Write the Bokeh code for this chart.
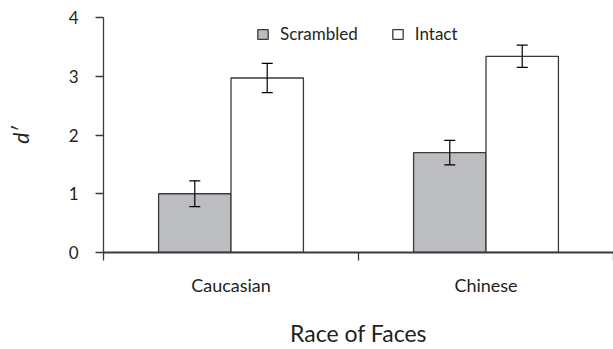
from bokeh.plotting import figure
from bokeh.models import (Range1d, FixedTicker, Whisker, TeeHead, ColumnDataSource,
                          Legend, LegendItem, LinearAxis)
from bokeh.embed import file_html
from bokeh.resources import INLINE

races = ["Caucasian", "Chinese"]
conditions = ["Scrambled", "Intact"]
scrambled = [1.00, 1.70]
intact = [2.97, 3.34]
scrambled_err = [0.22, 0.21]
intact_err = [0.25, 0.19]
y_ticks = [0, 1, 2, 3, 4]

FONT = "Lato"
GRAY = "#bcbdc0"
EDGE = "#3a3a3a"
TXT = "#231f20"
OFF = 0.142
BW = 0.284

p = figure(width=613, height=349, output_backend="svg", toolbar_location=None,
           x_range=Range1d(0, 2.0), y_range=Range1d(0, 4),
           min_border_left=103, min_border_right=0, min_border_top=17, min_border_bottom=97,
           x_axis_type=None, y_axis_type=None)
p.outline_line_color = None
p.background_fill_color = None
p.border_fill_color = "white"

centers = [i + 0.5 for i in range(len(races))]
src_s = ColumnDataSource(dict(x=[c - OFF for c in centers], top=scrambled,
                              upper=[v + e for v, e in zip(scrambled, scrambled_err)],
                              lower=[v - e for v, e in zip(scrambled, scrambled_err)]))
src_i = ColumnDataSource(dict(x=[c + OFF for c in centers], top=intact,
                              upper=[v + e for v, e in zip(intact, intact_err)],
                              lower=[v - e for v, e in zip(intact, intact_err)]))

r_s = p.vbar(x="x", top="top", bottom=0, width=BW, source=src_s,
             fill_color=GRAY, line_color=EDGE, line_width=1.3)
r_i = p.vbar(x="x", top="top", bottom=0, width=BW, source=src_i,
             fill_color="white", line_color=EDGE, line_width=1.3)

for src in (src_s, src_i):
    w = Whisker(source=src, base="x", upper="upper", lower="lower", level="overlay",
                line_color="black", line_width=1.2,
                upper_head=TeeHead(size=11, line_color="black", line_width=1.2),
                lower_head=TeeHead(size=11, line_color="black", line_width=1.2))
    p.add_layout(w)

# y axis
yax = LinearAxis(ticker=FixedTicker(ticks=y_ticks, minor_ticks=[]))
yax.axis_line_color = EDGE
yax.axis_line_width = 1.3
yax.major_tick_line_color = EDGE
yax.major_tick_line_width = 1.3
yax.major_tick_out = 8
yax.major_tick_in = 0
yax.minor_tick_out = 0
yax.major_label_standoff = 17
yax.major_label_text_font = FONT
yax.major_label_text_font_size = "17px"
yax.major_label_text_color = TXT
yax.axis_label = "d\u2032"
yax.axis_label_text_font = FONT
yax.axis_label_text_font_style = "italic"
yax.axis_label_text_font_size = "21px"
yax.axis_label_text_color = TXT
yax.axis_label_standoff = 33
p.add_layout(yax, "left")

# x axis
xax = LinearAxis(ticker=FixedTicker(ticks=centers,
                                    minor_ticks=list(range(len(races) + 1))))
xax.major_label_overrides = {c: r for c, r in zip(centers, races)}
xax.axis_line_color = EDGE
xax.axis_line_width = 2
xax.major_tick_out = 0
xax.major_tick_in = 0
xax.minor_tick_line_color = EDGE
xax.minor_tick_line_width = 1.3
xax.minor_tick_out = 8
xax.minor_tick_in = 0
xax.major_label_standoff = 13
xax.major_label_text_font = FONT
xax.major_label_text_font_size = "18px"
xax.major_label_text_color = TXT
xax.axis_label = "Race of Faces"
xax.axis_label_text_font = FONT
xax.axis_label_text_font_style = "normal"
xax.axis_label_text_font_size = "23px"
xax.axis_label_text_color = TXT
xax.axis_label_standoff = 20
p.add_layout(xax, "below")

legend = Legend(items=[LegendItem(label=conditions[0], renderers=[r_s]),
                       LegendItem(label=conditions[1], renderers=[r_i])],
                orientation="horizontal", location=(153, 208),
                border_line_color=None, background_fill_alpha=0,
                glyph_width=13, glyph_height=12, label_standoff=11, spacing=33,
                padding=0, margin=0, label_text_font=FONT,
                label_text_font_size="17px", label_text_color=TXT)
p.add_layout(legend)

open("out.html", "w").write(file_html(p, INLINE))
